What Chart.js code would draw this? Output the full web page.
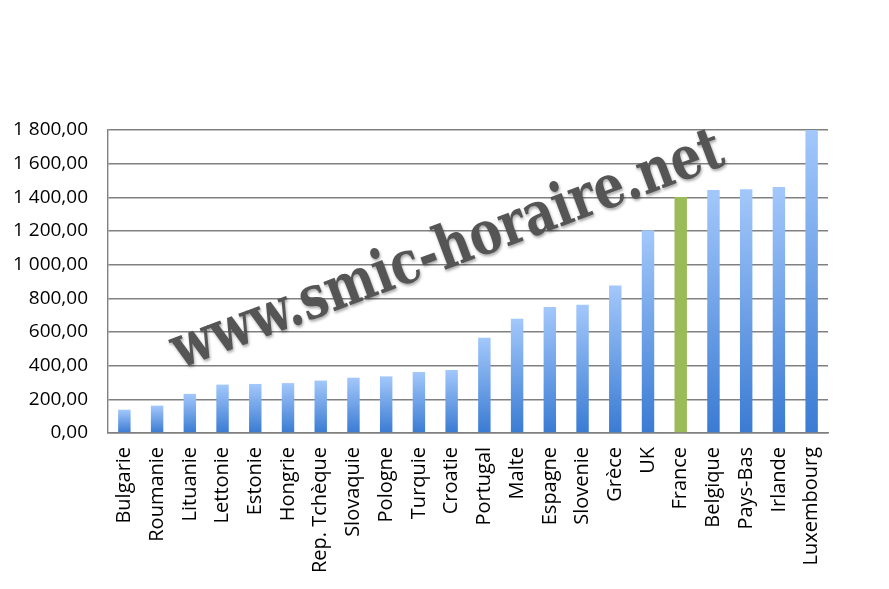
<!DOCTYPE html>
<html>
<head>
<meta charset="utf-8">
<script src="https://cdn.jsdelivr.net/npm/chart.js@4/dist/chart.umd.min.js"></script>
<style>
  html, body { margin: 0; padding: 0; background: #fff; }
  #wrap { width: 889px; height: 589px; position: relative; }
</style>
</head>
<body>
<div id="wrap"><canvas id="c"></canvas></div>
<script>
// Data
const countries = ['Bulgarie', 'Roumanie', 'Lituanie', 'Lettonie', 'Estonie', 'Hongrie',
  'Rep. Tchèque', 'Slovaquie', 'Pologne', 'Turquie', 'Croatie', 'Portugal', 'Malte',
  'Espagne', 'Slovenie', 'Grèce', 'UK', 'France', 'Belgique', 'Pays-Bas', 'Irlande', 'Luxembourg'];
const smic = [138, 162, 232, 287, 291, 296, 311, 328, 336, 362, 374, 566, 678,
  748, 762, 876, 1205, 1402, 1444, 1448, 1462, 1800];
const yTicks = [0, 200, 400, 600, 800, 1000, 1200, 1400, 1600, 1800];
const highlight = 'France';
const watermark = 'www.smic-horaire.net';

const FONT = '"Open Sans", "DejaVu Sans", sans-serif';

function frNumber(v) {
  const parts = v.toFixed(2).split('.');
  const intPart = parts[0].replace(/\B(?=(\d{3})+(?!\d))/g, ' ');
  return intPart + ',' + parts[1];
}

function barColor(context) {
  const chart = context.chart;
  const i = context.dataIndex;
  if (countries[i] === highlight) return '#9bbb59';
  const area = chart.chartArea;
  const y = chart.scales.y;
  if (!area || !y) return '#6a9be6';
  const top = y.getPixelForValue(smic[i]);
  const bottom = y.getPixelForValue(0);
  if (!isFinite(top) || !isFinite(bottom) || top === bottom) return '#6a9be6';
  const g = chart.ctx.createLinearGradient(0, top, 0, bottom);
  g.addColorStop(0, '#a3c8fb');
  g.addColorStop(1, '#3a7bd3');
  return g;
}

const watermarkPlugin = {
  id: 'watermark',
  afterDatasetsDraw(chart) {
    const ctx = chart.ctx;
    ctx.save();
    ctx.translate(448, 252);
    ctx.rotate(-20.5 * Math.PI / 180);
    ctx.font = 'bold 60px "DejaVu Serif", serif';
    const w = ctx.measureText(watermark).width;
    const scale = 585 / w;
    ctx.scale(scale, 1);
    ctx.textAlign = 'center';
    ctx.textBaseline = 'middle';
    ctx.shadowColor = 'rgba(0,0,0,0.35)';
    ctx.shadowBlur = 3;
    ctx.shadowOffsetX = 1;
    ctx.shadowOffsetY = 2;
    ctx.fillStyle = '#555555';
    ctx.fillText(watermark, 0, 0);
    ctx.restore();
  }
};

new Chart(document.getElementById('c'), {
  type: 'bar',
  data: {
    labels: countries,
    datasets: [{
      data: smic,
      backgroundColor: barColor,
      borderWidth: 0,
      categoryPercentage: 1,
      barPercentage: 0.38
    }]
  },
  options: {
    responsive: true,
    maintainAspectRatio: false,
    animation: false,
    layout: { padding: { top: 130, right: 61, left: 12, bottom: 2 } },
    plugins: {
      legend: { display: false },
      tooltip: { enabled: false }
    },
    scales: {
      y: {
        min: 0,
        max: 1800,
        afterBuildTicks(axis) { axis.ticks = yTicks.map(v => ({ value: v })); },
        afterFit(axis) { axis.width = 96; },
        grid: { color: '#808080', lineWidth: 1.4, drawTicks: false },
        border: { display: true, color: '#808080', width: 1.4 },
        ticks: {
          padding: 20,
          color: '#000',
          font: { family: FONT, size: 19 },
          callback: v => frNumber(v)
        }
      },
      x: {
        grid: { display: false, drawTicks: false },
        border: { display: true, color: '#808080', width: 1.4 },
        ticks: {
          minRotation: 90,
          maxRotation: 90,
          autoSkip: false,
          padding: 14,
          color: '#000',
          font: { family: FONT, size: 20 }
        }
      }
    }
  },
  plugins: [watermarkPlugin]
});
</script>
</body>
</html>
